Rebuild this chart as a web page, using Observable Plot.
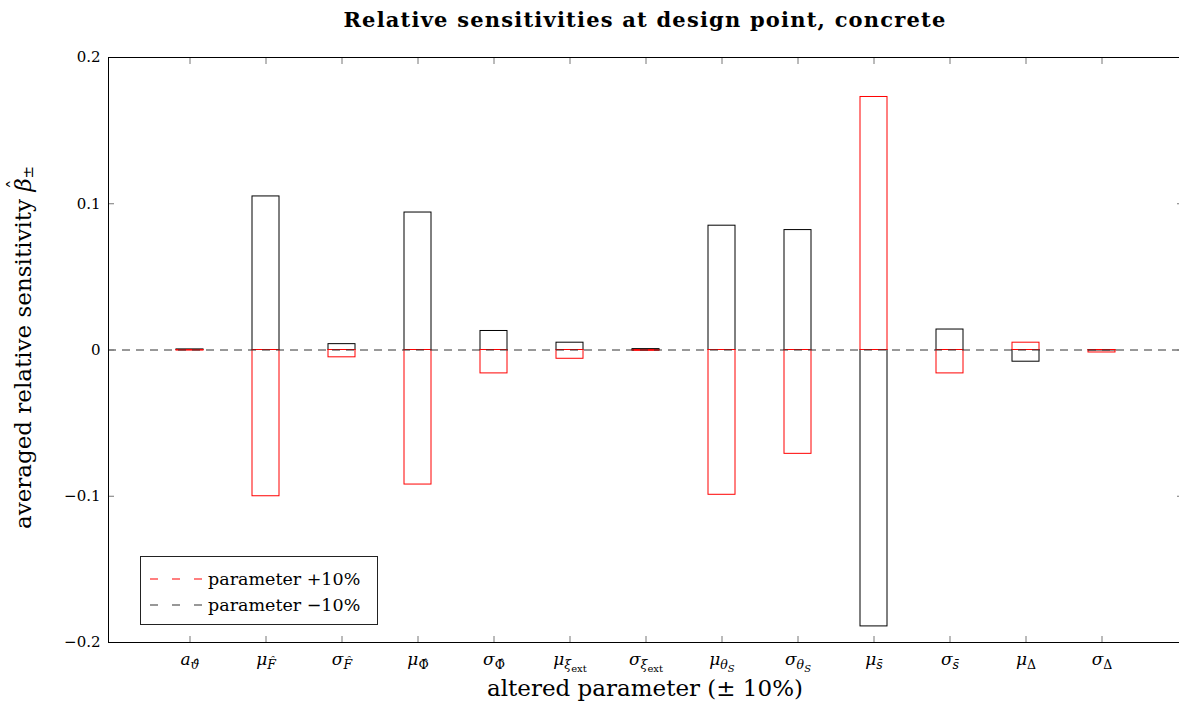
<!DOCTYPE html>
<html><head><meta charset="utf-8">
<script src="https://cdn.jsdelivr.net/npm/d3@7"></script>
<script src="https://cdn.jsdelivr.net/npm/@observablehq/plot@0.6"></script>
<style>
html,body{margin:0;padding:0;background:#fff;overflow:hidden;}
#wrap{position:relative;width:1182px;height:713px;font-family:"DejaVu Serif",serif;color:#000;}
#title{position:absolute;left:108px;width:1074px;top:7px;text-align:center;font-weight:bold;font-size:21px;letter-spacing:1.2px;}
#chart{position:absolute;left:0;top:40px;}
#legend{position:absolute;left:140px;top:556px;width:238px;height:69px;box-sizing:border-box;border:1px solid #222;background:#fff;}
#legend svg{position:absolute;left:0;top:0;}
</style></head><body>
<div id="wrap">
  <div id="title"></div>
  <div id="chart"></div>
  <div id="legend"></div>
</div>
<script>
// ---- data ----
const params = ["a_vartheta","mu_F","sigma_F","mu_Phi","sigma_Phi","mu_xi","sigma_xi","mu_thetaS","sigma_thetaS","mu_sbar","sigma_sbar","mu_Delta","sigma_Delta"];
const labelSymbol = ["a","μ","σ","μ","σ","μ","σ","μ","σ","μ","σ","μ","σ"];
const labelSub = ["ϑ\u0302","F\u0302","F\u0302","Φ\u0302","Φ\u0302","ξ","ξ","θ","θ","s\u0304","s\u0304","Δ","Δ"];
const labelSubSub = ["","","","","","ext","ext","S","S","","","",""];
// parameter +10% (red)
const plus10 = [-0.0004, -0.100, -0.005, -0.092, -0.016, -0.006, -0.0006, -0.099, -0.071, 0.173, -0.016, 0.005, -0.0017];
// parameter -10% (black)
const minus10 = [0.0004, 0.105, 0.004, 0.094, 0.013, 0.005, 0.0006, 0.085, 0.082, -0.189, 0.014, -0.008, -0.0003];
const yTicks = [-0.2, -0.1, 0, 0.1, 0.2];
const yTickLabels = ["−0.2", "−0.1", "0", "0.1", "0.2"];
const legendLabels = ["parameter +10%", "parameter −10%"];
const legendColors = ["red", "#333"];
const title = "Relative sensitivities at design point, concrete";
const xLabel = "altered parameter (± 10%)";
const yLabel = "averaged relative sensitivity ";

document.getElementById("title").textContent = title;
const table = params.map((p, i) => ({param: p, plus: plus10[i], minus: minus10[i]}));

const chart = Plot.plot({
  width: 1182, height: 673,
  marginTop: 17, marginBottom: 71, marginLeft: 108, marginRight: 0,
  style: {fontFamily: '"DejaVu Serif", serif', fontSize: "15px", background: "white", color: "black"},
  x: {type: "band", domain: params, paddingInner: 0.647, paddingOuter: 0.8235, label: null},
  y: {domain: [-0.2, 0.2], label: null},
  marks: [
    Plot.barY(table, {x: "param", y: "minus", fill: "none", stroke: "black", strokeWidth: 1}),
    Plot.barY(table, {x: "param", y: "plus", fill: "none", stroke: "red", strokeWidth: 1}),
    Plot.ruleY([0], {stroke: "#333", strokeWidth: 1, strokeDasharray: "8,6"}),
    Plot.axisX({anchor: "bottom", tickSize: 0, tickPadding: 10, tickFormat: d => d, label: null, fontSize: 17}),
    Plot.axisX({anchor: "bottom", tickSize: -6, fill: null, stroke: "#777", label: null}),
    Plot.axisX({anchor: "top", tickSize: -6, fill: null, stroke: "#777", label: null}),
    Plot.axisY({anchor: "left", ticks: yTicks, tickSize: 0, tickPadding: 8, tickFormat: d => yTickLabels[yTicks.indexOf(d)], label: null, fontSize: 15}),
    Plot.axisY({anchor: "left", ticks: yTicks, tickSize: -6, fill: null, stroke: "#777", label: null}),
    Plot.axisY({anchor: "right", ticks: yTicks, tickSize: -6, fill: null, stroke: "#777", label: null}),
    Plot.frame({stroke: "black", strokeWidth: 1})
  ]
});
document.getElementById("chart").appendChild(chart);

// subscripted x tick labels
d3.select(chart).selectAll('g[aria-label="x-axis tick label"] text').each(function() {
  const i = params.indexOf(this.textContent);
  if (i < 0) return;
  const t = d3.select(this);
  t.text(null);
  t.append("tspan").attr("font-style", "italic").text(labelSymbol[i]);
  const upright = /^[ΦΔ]/.test(labelSub[i]);
  t.append("tspan").attr("font-size", "12.5px").attr("dy", 4).attr("font-style", upright ? "normal" : "italic").text(labelSub[i]);
  if (labelSubSub[i]) {
    t.append("tspan").attr("font-size", "10px").attr("dy", 3).attr("font-style", labelSubSub[i] === "ext" ? "normal" : "italic").text(labelSubSub[i]);
  }
});

// axis labels
const svg = d3.select(chart);
const yScale = chart.scale("y");
svg.append("text").attr("x", 645).attr("y", 656).attr("text-anchor", "middle")
  .attr("font-size", 23).attr("font-family", '"DejaVu Serif", serif').text(xLabel);
const yl = svg.append("text").attr("transform", `translate(31,${yScale.apply(0) - 2}) rotate(-90)`)
  .attr("text-anchor", "middle").attr("font-size", 23).attr("font-family", '"DejaVu Serif", serif');
yl.append("tspan").text(yLabel);
yl.append("tspan").attr("font-style", "italic").text("β");
yl.append("tspan").attr("dx", "-0.55em").attr("dy", "-0.42em").attr("font-size", 20).text("ˆ");
yl.append("tspan").attr("dx", "0.05em").attr("dy", "0.7em").attr("font-size", 15).text("±");

// legend
const lg = d3.select("#legend").append("svg").attr("width", 238).attr("height", 69);
legendLabels.forEach((lab, i) => {
  const cy = 22 + i * 26;
  lg.append("line").attr("x1", 9).attr("x2", 63).attr("y1", cy).attr("y2", cy)
    .attr("stroke", legendColors[i]).attr("stroke-width", 1.2).attr("stroke-dasharray", "8,14");
  lg.append("text").attr("x", 67).attr("y", cy).attr("dy", "0.35em")
    .attr("font-size", 17.5).attr("font-family", '"DejaVu Serif", serif').text(lab);
});
</script>
</body></html>
